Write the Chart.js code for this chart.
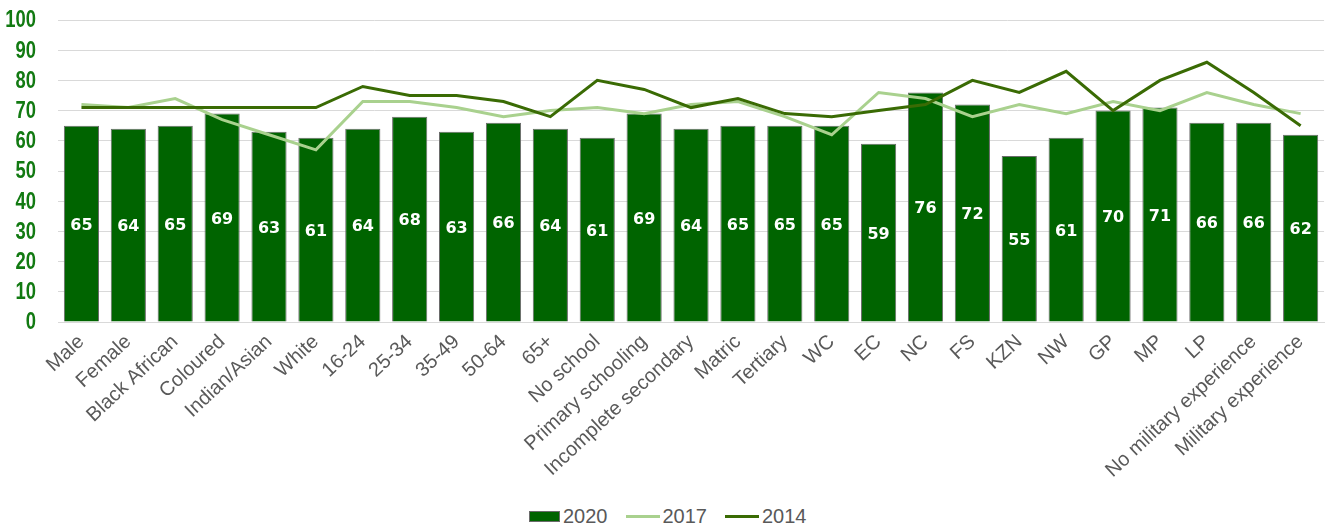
<!DOCTYPE html>
<html>
<head>
<meta charset="utf-8">
<script src="https://cdn.jsdelivr.net/npm/chart.js@4/dist/chart.umd.min.js"></script>
<style>
  html, body { margin: 0; padding: 0; background: #fff; }
  #wrap { position: relative; width: 1325px; height: 526px; }
  #box { position: absolute; left: 0; top: 0; width: 1325px; height: 500px; }
  #legend {
    position: absolute; left: 529px; top: 505px; height: 22px;
    display: flex; align-items: center;
    font: 20px "Liberation Sans", Arial, sans-serif; color: #595959;
  }
  #legend .item { display: flex; align-items: center; margin-right: 18px; }
  #legend .swatch { margin-right: 3px; }
</style>
</head>
<body>
<div id="wrap">
  <div id="box"><canvas id="chart"></canvas></div>
  <div id="legend"></div>
</div>
<script>
const categories = [
  "Male", "Female", "Black African", "Coloured", "Indian/Asian", "White",
  "16-24", "25-34", "35-49", "50-64", "65+",
  "No school", "Primary schooling", "Incomplete secondary", "Matric", "Tertiary",
  "WC", "EC", "NC", "FS", "KZN", "NW", "GP", "MP", "LP",
  "No military experience", "Military experience"
];
const values2020 = [65, 64, 65, 69, 63, 61, 64, 68, 63, 66, 64, 61, 69, 64, 65, 65, 65, 59, 76, 72, 55, 61, 70, 71, 66, 66, 62];
const values2017 = [72, 71, 74, 67, 62, 57, 73, 73, 71, 68, 70, 71, 69, 72, 73, 68, 62, 76, 74, 68, 72, 69, 73, 70, 76, 72, 69];
const values2014 = [71, 71, 71, 71, 71, 71, 78, 75, 75, 73, 68, 80, 77, 71, 74, 69, 68, 70, 72, 80, 76, 83, 70, 80, 86, 76, 65];
const yTicks = [0, 10, 20, 30, 40, 50, 60, 70, 80, 90, 100];

const BAR_GREEN = "#006400";
const LIGHT_GREEN = "#a9d18e";
const DARK_GREEN = "#3a6b04";
const AXIS_GREEN = "#127a12";
const TEXT_GREY = "#595959";

// white value labels in the middle of each bar
const barLabels = {
  id: "barLabels",
  afterDatasetsDraw(chart) {
    const ctx = chart.ctx;
    const meta = chart.getDatasetMeta(0);
    ctx.save();
    ctx.fillStyle = "#ffffff";
    ctx.font = "bold 16px 'DejaVu Sans', Verdana, sans-serif";
    ctx.textAlign = "center";
    ctx.textBaseline = "middle";
    meta.data.forEach((bar, i) => {
      const mid = (bar.y + bar.base) / 2;
      ctx.fillText(String(values2020[i]), bar.x, mid + 2);
    });
    ctx.restore();
  }
};

// y tick numbers in a narrow bold face (no condensed font installed, so squeeze it)
const narrowYTicks = {
  id: "narrowYTicks",
  afterDraw(chart) {
    const ctx = chart.ctx;
    const y = chart.scales.y;
    ctx.save();
    ctx.fillStyle = AXIS_GREEN;
    ctx.font = "bold 23px 'Liberation Sans', Arial, sans-serif";
    ctx.textAlign = "right";
    ctx.textBaseline = "middle";
    yTicks.forEach((v) => {
      ctx.save();
      ctx.translate(36, y.getPixelForValue(v) + 1);
      ctx.scale(0.8, 1);
      ctx.fillText(String(v), 0, 0);
      ctx.restore();
    });
    ctx.restore();
  }
};

const chart = new Chart(document.getElementById("chart"), {
  type: "bar",
  data: {
    labels: categories,
    datasets: [
      {
        label: "2020",
        data: values2020,
        backgroundColor: BAR_GREEN,
        borderColor: "#6b6b6b",
        borderWidth: 1,
        categoryPercentage: 0.75,
        barPercentage: 1,
        order: 2
      },
      {
        type: "line",
        label: "2017",
        data: values2017,
        borderColor: LIGHT_GREEN,
        backgroundColor: LIGHT_GREEN,
        borderWidth: 3,
        pointRadius: 0,
        tension: 0,
        order: 1
      },
      {
        type: "line",
        label: "2014",
        data: values2014,
        borderColor: DARK_GREEN,
        backgroundColor: DARK_GREEN,
        borderWidth: 3,
        pointRadius: 0,
        tension: 0,
        order: 0
      }
    ]
  },
  options: {
    responsive: true,
    maintainAspectRatio: false,
    animation: false,
    layout: { padding: { top: 20, right: 0, left: 0, bottom: 0 } },
    scales: {
      x: {
        offset: true,
        grid: { display: false, drawTicks: false },
        border: { display: true, color: "#d9d9d9", width: 1 },
        afterFit(scale) {
          scale.height = 178;
        },
        ticks: {
          color: TEXT_GREY,
          font: { family: "'Liberation Sans', Arial, sans-serif", size: 20 },
          minRotation: 43,
          maxRotation: 43,
          autoSkip: false,
          padding: 8
        }
      },
      y: {
        min: 0,
        max: 100,
        afterBuildTicks(scale) {
          scale.ticks = yTicks.map((v) => ({ value: v }));
        },
        afterFit(scale) {
          scale.width = 58;
        },
        grid: { color: "#d9d9d9", lineWidth: 1, drawTicks: false },
        border: { display: false },
        ticks: { display: false }
      }
    },
    plugins: {
      tooltip: { enabled: false },
      legend: { display: false }
    }
  },
  plugins: [barLabels, narrowYTicks]
});

// legend row under the chart
const legend = document.getElementById("legend");
chart.data.datasets.forEach((ds) => {
  const item = document.createElement("span");
  item.className = "item";
  const swatch = document.createElement("span");
  swatch.className = "swatch";
  if (ds.type === "line") {
    swatch.style.cssText = `display:inline-block;width:34px;height:3px;background:${ds.borderColor}`;
  } else {
    swatch.style.cssText = `display:inline-block;width:29px;height:9px;background:${ds.backgroundColor};border:1px solid #6b6b6b`;
  }
  item.appendChild(swatch);
  item.appendChild(document.createTextNode(ds.label));
  legend.appendChild(item);
});
</script>
</body>
</html>
